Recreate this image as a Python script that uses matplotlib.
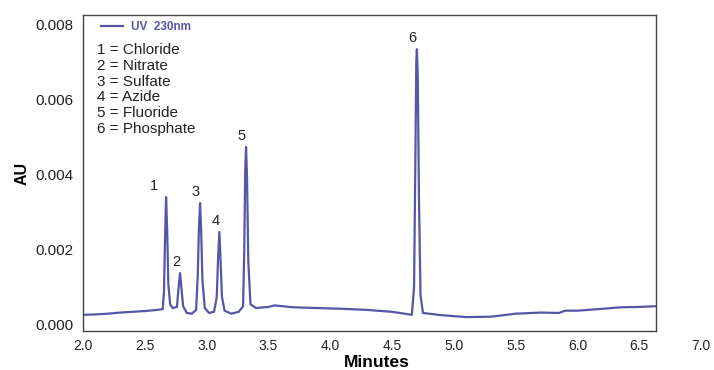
import numpy as np
from matplotlib import pyplot as plt
from matplotlib.lines import Line2D

plt.rcParams['font.family'] = ['Liberation Sans', 'DejaVu Sans']

# chromatogram trace (minutes, AU)
minutes = [2.00, 2.10, 2.20, 2.30, 2.40, 2.50, 2.60, 2.645,
           2.655, 2.663, 2.672, 2.681, 2.690, 2.705, 2.725,
           2.760, 2.773, 2.785, 2.797, 2.810, 2.840, 2.880, 2.915,
           2.928, 2.938, 2.947, 2.956, 2.966, 2.985, 3.020, 3.060,
           3.082, 3.093, 3.103, 3.113, 3.124, 3.145, 3.200, 3.260, 3.295,
           3.305, 3.312, 3.319, 3.327, 3.337, 3.355, 3.400,
           3.50, 3.55, 3.70, 3.90, 4.10, 4.30, 4.50, 4.66,
           4.678, 4.688, 4.696, 4.701, 4.708, 4.718, 4.730, 4.750,
           4.90, 5.10, 5.30, 5.50, 5.70, 5.85, 5.90, 6.00, 6.20, 6.35, 6.50, 6.64]
au = [0.00027, 0.00028, 0.00030, 0.00033, 0.00035, 0.00037, 0.00040, 0.00042,
      0.00090, 0.00220, 0.00340, 0.00250, 0.00110, 0.00055, 0.00045,
      0.00048, 0.00100, 0.00138, 0.00095, 0.00050, 0.00032, 0.00030, 0.00040,
      0.00130, 0.00260, 0.00324, 0.00250, 0.00120, 0.00045, 0.00032, 0.00035,
      0.00075, 0.00180, 0.00247, 0.00170, 0.00075, 0.00038, 0.00030, 0.00035, 0.00050,
      0.00210, 0.00410, 0.00473, 0.00390, 0.00170, 0.00055, 0.00045,
      0.00048, 0.00052, 0.00047, 0.00045, 0.00043, 0.00040, 0.00035, 0.00027,
      0.00100, 0.00420, 0.00700, 0.00733, 0.00660, 0.00330, 0.00080, 0.00032,
      0.00026, 0.00021, 0.00022, 0.00030, 0.00033, 0.00032, 0.00038, 0.00038,
      0.00043, 0.00047, 0.00048, 0.00050]

peak_ids = ['1', '2', '3', '4', '5', '6']
peak_t = [2.672, 2.785, 2.947, 3.103, 3.319, 4.701]
peak_h = [0.00340, 0.00138, 0.00324, 0.00247, 0.00473, 0.00733]
analytes = ['Chloride', 'Nitrate', 'Sulfate', 'Azide', 'Fluoride', 'Phosphate']

xticks = [2.0, 2.5, 3.0, 3.5, 4.0, 4.5, 5.0, 5.5, 6.0, 6.5]
yticks = [0.000, 0.002, 0.004, 0.006, 0.008]

col = '#5656a6'
txt = '#222222'

fig = plt.figure(figsize=(7.14, 3.70), dpi=100)
ax = fig.add_axes([83/714, 39/370, 573/714, 316/370])

ax.plot(minutes, au, color=col, lw=1.6)

ax.set_xlim(2.0, 6.635)
ax.set_ylim(-0.00016, 0.00824)
ax.set_xticks(xticks)
ax.set_xticklabels(['%.1f' % v for v in xticks])
ax.set_yticks(yticks)
ax.set_yticklabels(['%.3f' % v for v in yticks])
ax.tick_params(length=0, labelcolor=txt, pad=6)
ax.tick_params(axis='x', labelsize=10)
ax.tick_params(axis='y', labelsize=11, pad=7)
# the 7.0 label sits past the right edge of the frame
ax.text(7.0, -0.026, '7.0', transform=ax.get_xaxis_transform(), ha='center', va='top',
        fontsize=10, color=txt, clip_on=False)
for s in ax.spines.values():
    s.set_color('#444444')
    s.set_linewidth(1.0)

ax.set_xlabel('Minutes', fontsize=12.5, fontweight='bold')
ax.xaxis.set_label_coords(0.512, -0.075)
ax.set_ylabel('AU', fontsize=11.5, fontweight='bold', labelpad=4)

for pid, t, h in zip(peak_ids, peak_t, peak_h):
    dx = -9 if pid == '1' else -3
    ax.annotate(pid, (t, h), xytext=(dx, 3), textcoords='offset points',
                ha='center', va='bottom', fontsize=10.5, color=txt)

h = Line2D([], [], color=col, lw=1.6)
leg = ax.legend([h], ['UV  230nm'], loc='upper left', bbox_to_anchor=(0.012, 1.015),
                frameon=False, fontsize=8.5, handlelength=1.9, handletextpad=0.7)
for t in leg.get_texts():
    t.set_color(col)
    t.set_fontweight('bold')

ax.text(0.024, 0.91, '\n'.join('%s = %s' % (i, a) for i, a in zip(peak_ids, analytes)),
        transform=ax.transAxes, ha='left', va='top', fontsize=11, color=txt, linespacing=1.15)

fig.savefig('out.png', dpi=100)
